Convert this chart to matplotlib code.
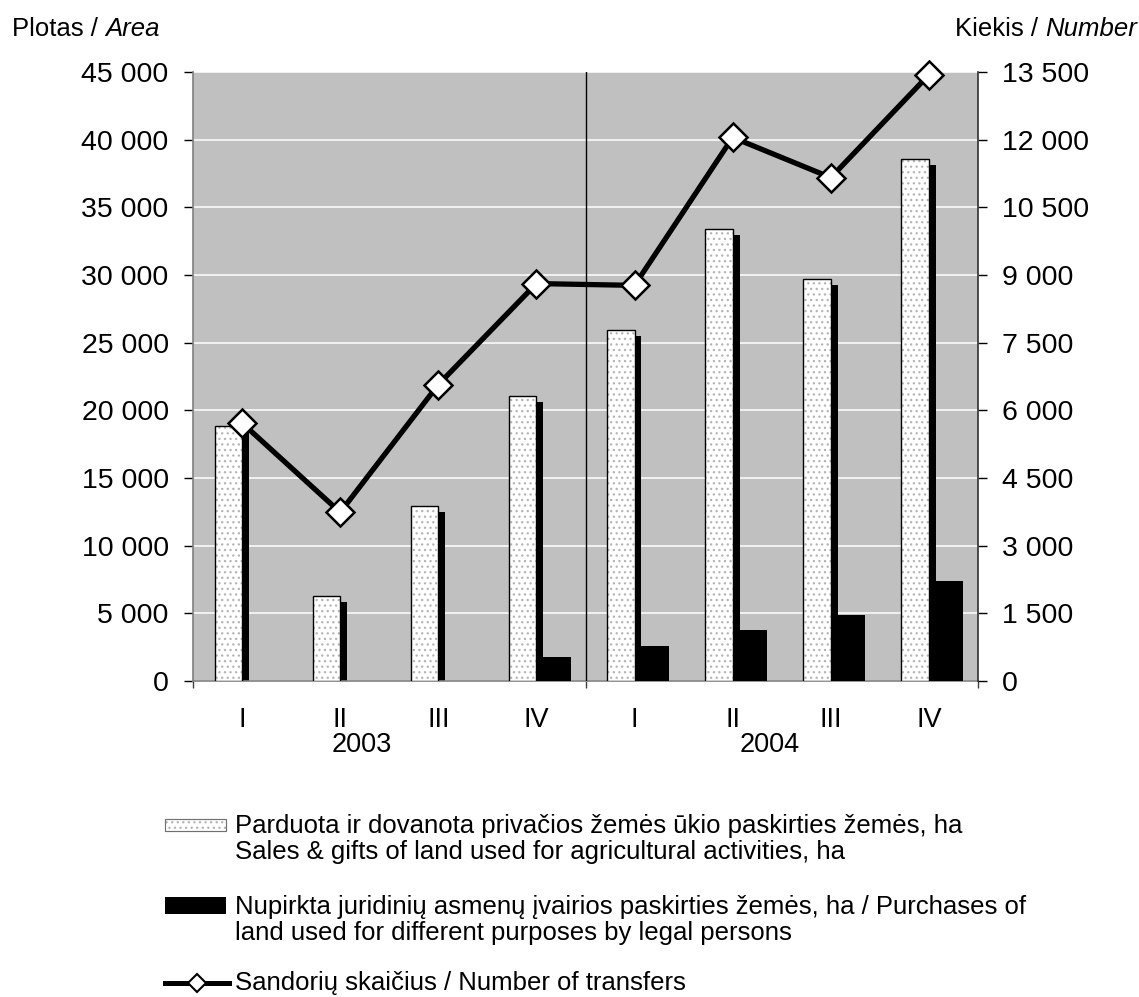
import numpy as np
import matplotlib
matplotlib.use("Agg")
import matplotlib.pyplot as plt
from matplotlib.patches import Rectangle
from matplotlib.lines import Line2D
from matplotlib.ticker import FuncFormatter

plt.rcParams['font.family'] = ['Liberation Sans', 'DejaVu Sans']
plt.rcParams['hatch.linewidth'] = 0.9

# ==============================
# Data
# ==============================
quarters = ["I", "II", "III", "IV", "I", "II", "III", "IV"]
years = ["2003", "2004"]
sales_gifts_ha = [18850, 6300, 12900, 21050, 25950, 33430, 29700, 38600]
legal_purchases_ha = [0, 0, 0, 1800, 2600, 3800, 4900, 7420]
transfers = [5720, 3740, 6570, 8810, 8770, 12050, 11160, 13440]

label_area = "Plotas / "
label_area_it = "Area"
label_num = "Kiekis / "
label_num_it = "Number"
legend_labels = [
    "Parduota ir dovanota privačios žemės ūkio paskirties žemės, ha\n"
    "Sales & gifts of land used for agricultural activities, ha",
    "Nupirkta juridinių asmenų įvairios paskirties žemės, ha / Purchases of\n"
    "land used for different purposes by legal persons",
    "Sandorių skaičius / Number of transfers",
]

W, H = 1139, 997
fig = plt.figure(figsize=(W / 100, H / 100), dpi=100)


def fx(x):
    return x / W


def fy(y):
    return 1 - y / H


ax = fig.add_axes([fx(193), fy(681), fx(978) - fx(193), fy(72) - fy(681)])
ax.set_facecolor("#c0c0c0")
ax.set_xlim(0, len(quarters))
ax.set_ylim(0, 45000)
ax.set_axisbelow(True)
ax.yaxis.grid(True, color="white", lw=1.1)

x = np.arange(len(quarters)) + 0.5
bw = 0.28
dx = 0.07
dy = 444

sg = np.array(sales_gifts_ha)
lp = np.array(legal_purchases_ha)

# shadow of the white bars
ax.bar(x - bw / 2 + dx, np.maximum(sg - dy, 0), width=bw, color="black", lw=0, zorder=2)
# white dotted bars
ax.bar(x - bw / 2, sg, width=bw, color="white", edgecolor="#b4b4b4", hatch="...", lw=0, zorder=3)
ax.bar(x - bw / 2, sg, width=bw, fill=False, edgecolor="black", lw=1.0, zorder=3.1)
# black bars
ax.bar(x, lp, width=bw + dx, align="edge", color="black", lw=0, zorder=3)

ax.axvline(4, color="black", lw=1, zorder=4)

fmt = FuncFormatter(lambda v, p: "{:,.0f}".format(v).replace(",", " "))
ax.set_yticks(np.arange(0, 45001, 5000))
ax.yaxis.set_major_formatter(fmt)
ax.tick_params(axis="y", direction="out", length=6.5, width=1, colors="black",
               labelsize=20.5, pad=11)
ax.set_xticks(x)
ax.set_xticklabels(quarters)
ax.set_xticks([0, 4, 8], minor=True)
ax.tick_params(axis="x", which="major", length=0, labelsize=19.5, pad=19)
ax.tick_params(axis="x", which="minor", length=5.3, width=1, color="#404040")

for s in ["top", "right"]:
    ax.spines[s].set_visible(False)
for s in ["left", "bottom"]:
    ax.spines[s].set_color("#808080")
    ax.spines[s].set_linewidth(1.2)

for i, yr in enumerate(years):
    ax.text([1.72, 5.88][i], (681 - 745) / 609, yr, transform=ax.get_xaxis_transform(),
            ha="center", va="center", fontsize=19.5)

ax2 = ax.twinx()
ax2.set_ylim(0, 13500)
ax2.set_yticks(np.arange(0, 13501, 1500))
ax2.yaxis.set_major_formatter(fmt)
ax2.tick_params(axis="y", direction="out", length=6.5, width=1, colors="black",
                labelsize=20.5, pad=11)
for s in ["top", "left", "bottom"]:
    ax2.spines[s].set_visible(False)
ax2.spines["right"].set_color("#303030")
ax2.spines["right"].set_linewidth(1.2)
ax2.plot(x, transfers, color="black", lw=3.8, marker="D", ms=14, mfc="white",
         mec="black", mew=1.8, clip_on=False, zorder=5)

# axis titles
t1 = fig.text(fx(12), fy(36), label_area, fontsize=18.5, va="baseline", ha="left")
ax.annotate(label_area_it, xy=(1, 0), xycoords=t1, fontsize=18.5, style="italic",
            va="bottom", ha="left", annotation_clip=False)
t2 = fig.text(fx(1137), fy(36), label_num_it, fontsize=18.5, style="italic",
              va="baseline", ha="right")
ax.annotate(label_num, xy=(0, 0), xycoords=t2, fontsize=18.5,
            va="bottom", ha="right", annotation_clip=False)

# legend
p1 = Rectangle((fx(165), fy(831)), fx(226) - fx(165), fy(819) - fy(831),
               transform=fig.transFigure, facecolor="white", edgecolor="#b4b4b4",
               hatch="...", lw=0.8)
fig.add_artist(p1)
p1b = Rectangle((fx(165), fy(831)), fx(226) - fx(165), fy(819) - fy(831),
                transform=fig.transFigure, fill=False, edgecolor="#707070", lw=0.8)
fig.add_artist(p1b)
p2 = Rectangle((fx(165), fy(914)), fx(226) - fx(165), fy(897) - fy(914),
               transform=fig.transFigure, facecolor="black", lw=0)
fig.add_artist(p2)
fig.add_artist(Line2D([fx(165), fx(229)], [fy(983), fy(983)], transform=fig.transFigure,
                      color="black", lw=3.6))
fig.add_artist(Line2D([fx(197)], [fy(983)], transform=fig.transFigure, marker="D",
                      ms=9, mfc="white", mec="black", mew=1.5))

for lab, yc in zip(legend_labels, [839, 920, 983]):
    fig.text(fx(235), fy(yc), lab, fontsize=18.5, va="center", ha="left", linespacing=1.12)

fig.savefig("out.png", dpi=100)
